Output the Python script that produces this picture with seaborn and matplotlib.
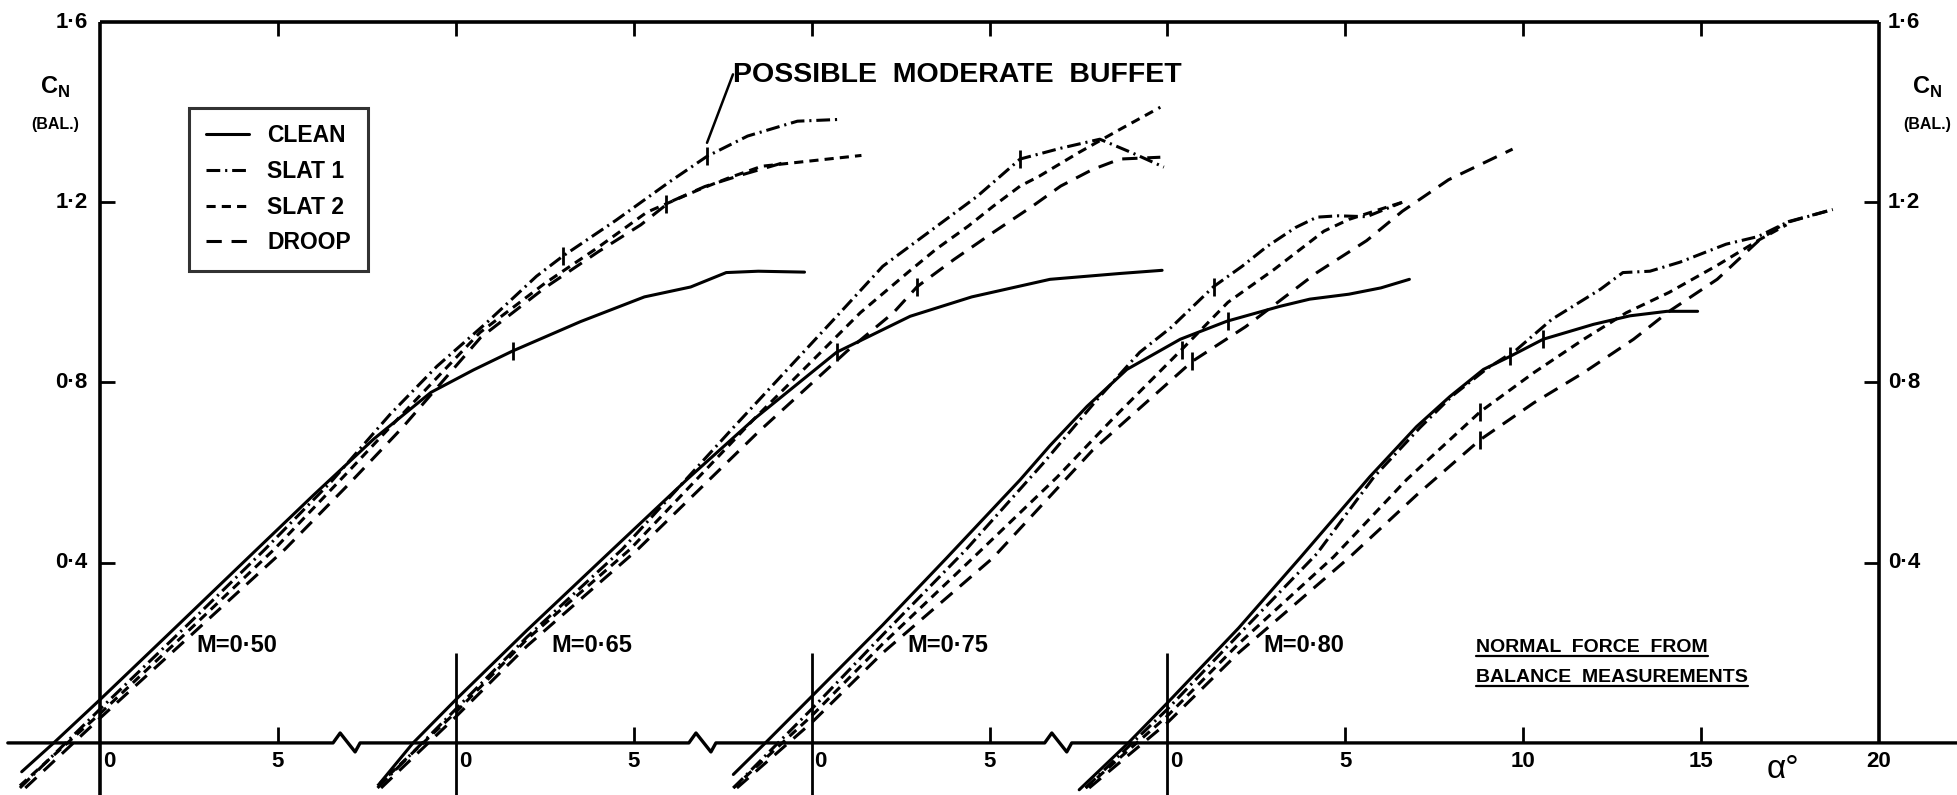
import numpy as np
import pandas as pd
import matplotlib
matplotlib.use("Agg")
import matplotlib.pyplot as plt
from matplotlib.lines import Line2D
import seaborn as sns

# Balance normal-force coefficient C_N against incidence alpha (deg),
# four leading-edge configurations at each of four Mach numbers.

MACH_LABELS = ["M=0·50", "M=0·65", "M=0·75", "M=0·80"]
CONFIGS = ["CLEAN", "SLAT 1", "SLAT 2", "DROOP"]

# M = 0.50
m50_clean_alpha = [-2.2, -1.3, 0.0, 2.0, 4.4, 6.0, 7.7, 9.3, 10.5, 11.6, 13.5, 15.3, 16.6, 17.6, 18.5, 19.8]
m50_clean_cn = [-0.064, 0.0, 0.096, 0.247, 0.429, 0.55, 0.675, 0.778, 0.828, 0.87, 0.935, 0.99, 1.012, 1.044, 1.047, 1.045]
m50_slat1_alpha = [-2.25, 0.0, 2.5, 4.64, 6.5, 8.15, 9.47, 10.87, 12.27, 13.0, 14.5, 16.0, 17.06, 18.2, 19.6, 20.8]
m50_slat1_cn = [-0.1, 0.075, 0.265, 0.43, 0.58, 0.729, 0.836, 0.933, 1.036, 1.08, 1.16, 1.245, 1.302, 1.347, 1.38, 1.384]
m50_slat2_alpha = [-2.25, 0.0, 2.5, 4.9, 7.0, 8.5, 10.68, 12.5, 14.0, 15.37, 16.86, 17.7, 18.6, 19.76, 21.4]
m50_slat2_cn = [-0.095, 0.065, 0.25, 0.43, 0.604, 0.73, 0.911, 1.02, 1.1, 1.178, 1.229, 1.255, 1.28, 1.29, 1.304]
m50_droop_alpha = [-2.1, 0.0, 2.5, 5.2, 7.0, 8.5, 10.7, 12.5, 14.0, 15.2, 16.0, 17.0, 18.0, 19.3]
m50_droop_cn = [-0.1, 0.055, 0.235, 0.43, 0.575, 0.7, 0.9, 1.01, 1.09, 1.15, 1.2, 1.235, 1.26, 1.29]

# M = 0.65
m65_clean_alpha = [-2.13, -1.2, 0.0, 2.0, 4.4, 6.5, 8.4, 10.7, 12.77, 14.5, 16.7, 18.67, 19.85]
m65_clean_cn = [-0.089, 0.0, 0.096, 0.25, 0.429, 0.585, 0.72, 0.867, 0.947, 0.99, 1.029, 1.042, 1.049]
m65_slat1_alpha = [-2.2, 0.0, 2.0, 4.68, 7.8, 10.8, 12.0, 13.4, 14.65, 15.86, 17.0, 18.1, 19.0, 19.9]
m65_slat1_cn = [-0.1, 0.075, 0.235, 0.43, 0.7, 0.955, 1.058, 1.14, 1.213, 1.296, 1.32, 1.34, 1.31, 1.278]
m65_slat2_alpha = [-2.2, 0.0, 2.0, 4.9, 8.37, 11.37, 12.7, 13.5, 14.4, 15.1, 15.86, 16.4, 17.5, 18.67, 19.8]
m65_slat2_cn = [-0.095, 0.068, 0.23, 0.43, 0.718, 0.955, 1.044, 1.096, 1.147, 1.191, 1.236, 1.258, 1.31, 1.362, 1.411]
m65_droop_alpha = [-2.1, 0.0, 2.0, 5.12, 8.5, 11.0, 12.3, 12.97, 14.0, 15.1, 16.2, 17.0, 17.9, 18.67, 19.8]
m65_droop_cn = [-0.1, 0.058, 0.215, 0.43, 0.69, 0.87, 0.955, 1.013, 1.073, 1.133, 1.191, 1.236, 1.273, 1.296, 1.30]

# M = 0.75
m75_clean_alpha = [-2.2, -1.3, 0.0, 2.0, 3.8, 5.86, 6.7, 7.74, 8.86, 10.36, 11.67, 13.16, 14.0, 15.1, 16.0, 16.8]
m75_clean_cn = [-0.07, 0.0, 0.103, 0.262, 0.411, 0.584, 0.66, 0.747, 0.829, 0.896, 0.936, 0.969, 0.985, 0.996, 1.01, 1.029]
m75_slat1_alpha = [-2.2, 0.0, 2.0, 4.34, 6.5, 8.0, 9.22, 10.1, 11.3, 12.1, 12.8, 13.6, 14.2, 14.8, 15.6, 16.6]
m75_slat1_cn = [-0.1, 0.075, 0.24, 0.429, 0.62, 0.76, 0.867, 0.922, 1.013, 1.058, 1.102, 1.144, 1.167, 1.17, 1.168, 1.2]
m75_slat2_alpha = [-2.2, 0.0, 2.0, 4.54, 6.9, 8.47, 10.4, 11.7, 13.0, 14.4, 15.1, 16.0, 16.6]
m75_slat2_cn = [-0.1, 0.06, 0.22, 0.411, 0.59, 0.72, 0.873, 0.978, 1.051, 1.136, 1.162, 1.185, 1.2]
m75_droop_alpha = [-2.1, 0.0, 2.0, 5.1, 7.9, 10.7, 12.2, 14.2, 15.6, 16.6, 17.9, 19.7]
m75_droop_cn = [-0.1, 0.045, 0.2, 0.411, 0.65, 0.847, 0.924, 1.044, 1.115, 1.18, 1.25, 1.318]

# M = 0.80
m80_clean_alpha = [-2.48, -1.1, 0.0, 2.0, 3.73, 5.69, 7.0, 7.94, 8.88, 9.63, 10.56, 11.97, 13.0, 14.04, 14.9]
m80_clean_cn = [-0.104, 0.0, 0.089, 0.255, 0.411, 0.591, 0.702, 0.769, 0.829, 0.858, 0.896, 0.929, 0.948, 0.958, 0.958]
m80_slat1_alpha = [-2.3, 0.0, 2.0, 4.2, 5.8, 7.1, 8.0, 9.0, 9.8, 10.8, 12.17, 12.8, 13.56, 14.4, 15.7, 16.6, 17.4, 18.7]
m80_slat1_cn = [-0.1, 0.075, 0.24, 0.42, 0.59, 0.7, 0.77, 0.832, 0.872, 0.94, 1.007, 1.044, 1.047, 1.067, 1.107, 1.124, 1.155, 1.184]
m80_slat2_alpha = [-2.3, 0.0, 2.0, 4.67, 6.73, 8.79, 10.3, 11.7, 12.9, 14.1, 15.45, 16.66, 17.4]
m80_slat2_cn = [-0.1, 0.06, 0.22, 0.413, 0.585, 0.735, 0.822, 0.896, 0.955, 1.0, 1.06, 1.118, 1.15]
m80_droop_alpha = [-2.2, 0.0, 2.0, 5.13, 7.0, 8.79, 10.3, 11.7, 13.1, 14.1, 15.45, 16.66, 17.4, 18.7]
m80_droop_cn = [-0.1, 0.045, 0.2, 0.413, 0.55, 0.673, 0.755, 0.822, 0.896, 0.958, 1.029, 1.118, 1.156, 1.184]

# short cross-marks on the curves (Mach index, configuration, alpha)
mark_mach = [0, 0, 0, 0, 1, 1, 1, 2, 2, 2, 2, 3, 3, 3, 3]
mark_config = ["CLEAN", "SLAT 1", "SLAT 1", "SLAT 2", "CLEAN", "SLAT 1", "DROOP",
               "CLEAN", "SLAT 1", "SLAT 2", "DROOP", "CLEAN", "CLEAN", "SLAT 2", "DROOP"]
mark_alpha = [11.6, 13.0, 17.06, 15.9, 10.7, 15.86, 12.97,
              11.7, 11.3, 10.4, 10.7, 9.63, 10.56, 8.79, 8.79]

# tick values
cn_ticks = [0.4, 0.8, 1.2, 1.6]
cn_left_labels = ["0·4", "0·8", "1·2", "1·6"]
cn_right_labels = ["0·4", "0·8", "1·2", "1·6"]
alpha_tick_groups = [[0, 5], [0, 5], [0, 5], [0, 5, 10, 15, 20]]

# each Mach number gets its own alpha origin, 10 deg apart along the axis
GROUP_SHIFT = [-30, -20, -10, 0]

series = {
    (0, "CLEAN"): (m50_clean_alpha, m50_clean_cn), (0, "SLAT 1"): (m50_slat1_alpha, m50_slat1_cn),
    (0, "SLAT 2"): (m50_slat2_alpha, m50_slat2_cn), (0, "DROOP"): (m50_droop_alpha, m50_droop_cn),
    (1, "CLEAN"): (m65_clean_alpha, m65_clean_cn), (1, "SLAT 1"): (m65_slat1_alpha, m65_slat1_cn),
    (1, "SLAT 2"): (m65_slat2_alpha, m65_slat2_cn), (1, "DROOP"): (m65_droop_alpha, m65_droop_cn),
    (2, "CLEAN"): (m75_clean_alpha, m75_clean_cn), (2, "SLAT 1"): (m75_slat1_alpha, m75_slat1_cn),
    (2, "SLAT 2"): (m75_slat2_alpha, m75_slat2_cn), (2, "DROOP"): (m75_droop_alpha, m75_droop_cn),
    (3, "CLEAN"): (m80_clean_alpha, m80_clean_cn), (3, "SLAT 1"): (m80_slat1_alpha, m80_slat1_cn),
    (3, "SLAT 2"): (m80_slat2_alpha, m80_slat2_cn), (3, "DROOP"): (m80_droop_alpha, m80_droop_cn),
}

rows = []
for (gi, cfg), (a, c) in series.items():
    for ai, ci in zip(a, c):
        rows.append({"mach": MACH_LABELS[gi], "config": cfg, "x": ai + GROUP_SHIFT[gi], "cn": ci})
df = pd.DataFrame(rows)
df["run"] = df["mach"] + "/" + df["config"]

sns.set_theme(style="white")
plt.rcParams["font.family"] = ["Liberation Sans", "DejaVu Sans"]
plt.rcParams["font.weight"] = "bold"
plt.rcParams["mathtext.fontset"] = "custom"
plt.rcParams["mathtext.rm"] = "Liberation Sans:bold"

DASHES = {"CLEAN": "", "SLAT 1": (4.5, 1.6, 0.7, 1.6), "SLAT 2": (3.0, 2.0), "DROOP": (5.0, 3.2)}
LW = 2.2
INK = "black"

fig = plt.figure(figsize=(19.57, 7.95), dpi=100)
ax = fig.add_axes([0, 0, 1, 1])
XL, XR = -32.81, 22.19
YB, YT = -0.1156, 1.649
ax.set_xlim(XL, XR)
ax.set_ylim(YB, YT)
ax.axis("off")

sns.lineplot(data=df, x="x", y="cn", style="config", style_order=CONFIGS, units="run",
             estimator=None, sort=False, dashes=DASHES, color=INK, linewidth=LW,
             legend=False, ax=ax)

frame = dict(color=INK, lw=2.6, solid_capstyle="butt", zorder=3)
thin = dict(color=INK, lw=2.0, solid_capstyle="butt", zorder=3)
x0, x1 = GROUP_SHIFT[0], GROUP_SHIFT[-1] + 20
ax.plot([x0, x0], [YB, 1.6], **frame)
ax.plot([x0, x1], [1.6, 1.6], **frame)
ax.plot([x1, x1], [0, 1.6], **frame)

# baseline with a break symbol between neighbouring alpha scales
bx, by = [XL + 0.22], [0.0]
for s in GROUP_SHIFT[:-1]:
    b = s + 6.93
    bx += [b - 0.38, b - 0.18, b + 0.24, b + 0.38]
    by += [0.0, 0.022, -0.02, 0.0]
bx.append(XR)
by.append(0.0)
ax.plot(bx, by, color=INK, lw=2.4, zorder=3)

# zero-incidence lines of the later scales
for s in GROUP_SHIFT[1:]:
    ax.plot([s, s], [0.2, YB], **thin)

# top ticks every 5 deg
for xt in np.arange(x0 + 5, x1, 5):
    ax.plot([xt, xt], [1.6, 1.6 - 0.03], **thin)

TICK_FS = 16
# C_N ticks, both sides, inward
for yt in cn_ticks[:-1]:
    ax.plot([x0, x0 + 0.42], [yt, yt], **thin)
    ax.plot([x1 - 0.42, x1], [yt, yt], **thin)
for yt, lab in zip(cn_ticks, cn_left_labels):
    ax.text(x0 - 0.35, yt, lab, ha="right", va="center", fontsize=TICK_FS, color=INK)
for yt, lab in zip(cn_ticks, cn_right_labels):
    ax.text(x1 + 0.25, yt, lab, ha="left", va="center", fontsize=TICK_FS, color=INK)

# alpha ticks and labels
for s, ticks in zip(GROUP_SHIFT, alpha_tick_groups):
    for t in ticks:
        xt = s + t
        if t == 0:
            ax.text(xt + 0.08, -0.042, "0", ha="left", va="center", fontsize=TICK_FS, color=INK)
        else:
            if xt < x1:
                ax.plot([xt, xt], [0, 0.036], **thin)
            ax.text(xt, -0.042, str(t), ha="center", va="center", fontsize=TICK_FS, color=INK)
ax.text(17.3, -0.06, "α°", ha="center", va="center", fontsize=24, color=INK, fontweight="normal")

# axis titles on both sides
for xc in (x0 - 1.26, x1 + 1.35):
    ax.text(xc, 1.456, r"C$_{\mathregular{N}}$", ha="center", va="center", fontsize=17, color=INK)
    ax.text(xc, 1.373, "(BAL.)", ha="center", va="center", fontsize=11.5, color=INK)

# Mach number labels
for s, lab in zip(GROUP_SHIFT, MACH_LABELS):
    ax.text(s + 2.7, 0.202, lab, ha="left", va="baseline", fontsize=17, color=INK)

# cross-marks
for gi, cfg, a in zip(mark_mach, mark_config, mark_alpha):
    sa, sc = series[(gi, cfg)]
    c = float(np.interp(a, sa, sc))
    ax.plot([a + GROUP_SHIFT[gi]], [c], marker="|", ms=13, mew=2.0, color=INK, zorder=4)

# buffet note with leader to its mark
bsa, bsc = series[(0, "SLAT 1")]
b_alpha = 17.06
b_cn = float(np.interp(b_alpha, bsa, bsc))
tx, ty = -12.21, 1.467
ax.text(tx, ty, "POSSIBLE  MODERATE  BUFFET", ha="left", va="baseline", fontsize=20.5, color=INK)
ax.plot([tx, b_alpha + GROUP_SHIFT[0]], [1.484, b_cn + 0.03], color=INK, lw=1.8)

# underlined note
n1 = ax.text(8.67, 0.202, "NORMAL  FORCE  FROM", ha="left", va="baseline", fontsize=14, color=INK)
n2 = ax.text(8.67, 0.136, "BALANCE  MEASUREMENTS", ha="left", va="baseline", fontsize=14, color=INK)
fig.canvas.draw()
inv = ax.transData.inverted()
renderer = fig.canvas.get_renderer()
for t, yu in ((n1, 0.194), (n2, 0.127)):
    bb = t.get_window_extent(renderer)
    xa = inv.transform((bb.x0, bb.y0))[0]
    xb = inv.transform((bb.x1, bb.y0))[0]
    ax.plot([xa, xb], [yu, yu], color=INK, lw=1.6)

# legend
handles = [Line2D([], [], color=INK, lw=LW, linestyle="-" if DASHES[c] == "" else (0, DASHES[c]))
           for c in CONFIGS]
leg = ax.legend(handles, CONFIGS, loc="upper left", bbox_to_anchor=(189 / 1957, 1 - 108 / 795),
                borderaxespad=0, frameon=True, fancybox=False, fontsize=16.5,
                handlelength=1.9, handletextpad=0.8, labelspacing=0.55, borderpad=0.72)
leg.get_frame().set_edgecolor(INK)
leg.get_frame().set_linewidth(2.2)
for txt in leg.get_texts():
    txt.set_color(INK)

fig.savefig("out.png", dpi=100, facecolor="white")
